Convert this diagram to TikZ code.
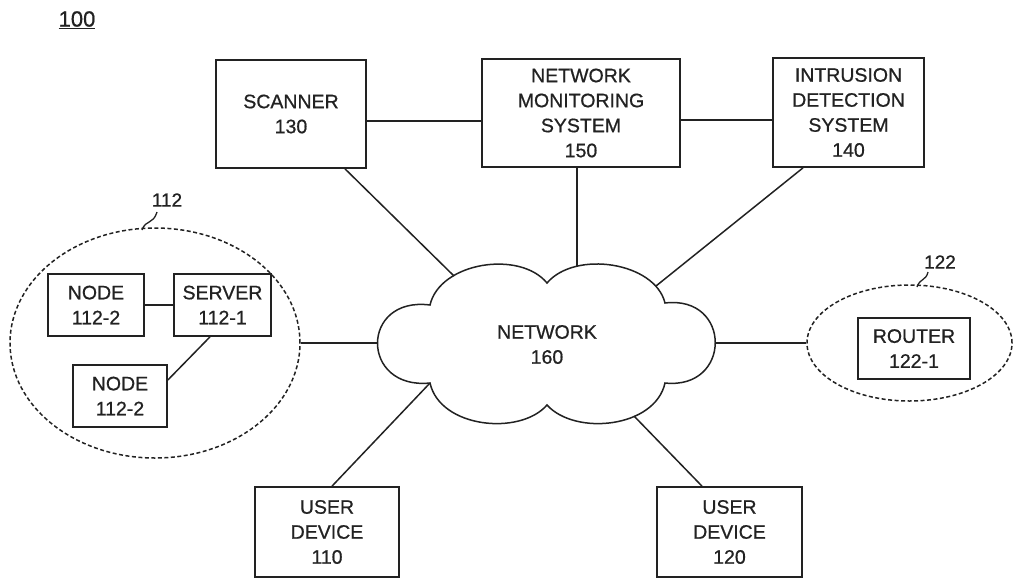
\documentclass[tikz,border=0pt]{standalone}
\usepackage{fontspec}
\setmainfont{Liberation Sans}[FakeBold=0.7]
\usetikzlibrary{calc,shapes.geometric}
\definecolor{ink}{HTML}{222222}
\begin{document}
\begin{tikzpicture}[x=1pt,y=-1pt,
  every node/.style={text=ink},
  txt/.style={font=\fontsize{19.5}{25}\selectfont, align=center, inner sep=0pt},
  box/.style={txt, draw=ink, line width=1.7pt, fill=white},
  conn/.style={draw=ink, line width=1.5pt},
  grp/.style={draw=ink, line width=1.5pt, dash pattern=on 4pt off 2.5pt, ellipse, inner sep=0pt},
  lbl/.style={font=\fontsize{19}{22}\selectfont, inner sep=0pt}]
\useasboundingbox (0,0) rectangle (1014,579);

% figure label
\node[font=\fontsize{22}{24}\selectfont, inner sep=0pt] (fig) at (77,20) {\underline{100}};

% top boxes
\node[box, minimum width=150pt, minimum height=108pt] (scanner) at (291,114) {SCANNER\\130};
\node[box, minimum width=198pt, minimum height=108pt] (nms) at (581,113) {NETWORK\\MONITORING\\SYSTEM\\150};
\node[box, minimum width=151pt, minimum height=109pt] (ids) at (848.5,112.5) {INTRUSION\\DETECTION\\SYSTEM\\140};

% cloud
\draw[conn, fill=white] (430,305) .. controls (440,262) and (520,250) .. (547,283)
  .. controls (575,250) and (655,262) .. (665,303)
  .. controls (732,295) and (732,390) .. (665,383)
  .. controls (655,428) and (575,436) .. (547,405)
  .. controls (520,436) and (440,428) .. (430,383)
  .. controls (360,390) and (360,296) .. (430,305) -- cycle;
\node[txt] (net) at (547,344.5) {NETWORK\\160};
\coordinate (cS) at (454,276);
\coordinate (cN) at (577,266);
\coordinate (cI) at (656,286);
\coordinate (cL) at (377,343);
\coordinate (cR) at (715,343);
\coordinate (cU1) at (430,383);
\coordinate (cU2) at (634,416);

% group 112
\node[grp, minimum width=290pt, minimum height=230pt] (g112) at (155,343) {};
\node[box, minimum width=96pt, minimum height=62pt] (n1) at (96,305) {NODE\\112-2};
\node[box, minimum width=97pt, minimum height=62pt] (srv) at (222.5,305) {SERVER\\112-1};
\node[box, minimum width=94pt, minimum height=62pt] (n2) at (120,396) {NODE\\112-2};
\node[lbl] (l112) at (167,200) {112};
\coordinate (s112a) at (142,230);
\coordinate (s112b) at (157,212);

% group 122
\node[grp, minimum width=205pt, minimum height=116pt] (g122) at (909.5,343) {};
\node[box, minimum width=112pt, minimum height=61pt] (router) at (914,348.5) {ROUTER\\122-1};
\node[lbl] (l122) at (940,262) {122};
\coordinate (s122a) at (917,287);
\coordinate (s122b) at (928,272);

% user devices
\node[box, minimum width=144pt, minimum height=90pt] (u110) at (327,532) {USER\\DEVICE\\110};
\node[box, minimum width=145pt, minimum height=90pt] (u120) at (729.5,532) {USER\\DEVICE\\120};

% connectors
\draw[conn] ($(scanner.east)+(0,7)$) -- ($(nms.west)+(0,8)$);
\draw[conn] ($(nms.east)+(0,7)$) -- ($(ids.west)+(0,7.5)$);
\draw[conn] ($(nms.south)+(-4,0)$) -- (cN);
\draw[conn] ($(scanner.south)+(54,0)$) -- (cS);
\draw[conn] ($(ids.south)+(-45.5,0)$) -- (cI);
\draw[conn] ($(u110.north)+(5,0)$) -- (cU1);
\draw[conn] ($(u120.north)+(-27.5,0)$) -- (cU2);
\draw[conn] (g112.east) -- (cL);
\draw[conn] (cR) -- (g122.west);
\draw[conn] (n1.east) -- (srv.west);
\draw[conn] ($(srv.south)+(-12.5,0)$) -- ($(n2.east)+(0,-16)$);

% squiggles
\draw[ink, line width=1.3pt] (s112a) .. controls (146,219) and (153,225) .. (s112b);
\draw[ink, line width=1.3pt] (s122a) .. controls (920,278) and (926,281) .. (s122b);
\end{tikzpicture}
\end{document}
